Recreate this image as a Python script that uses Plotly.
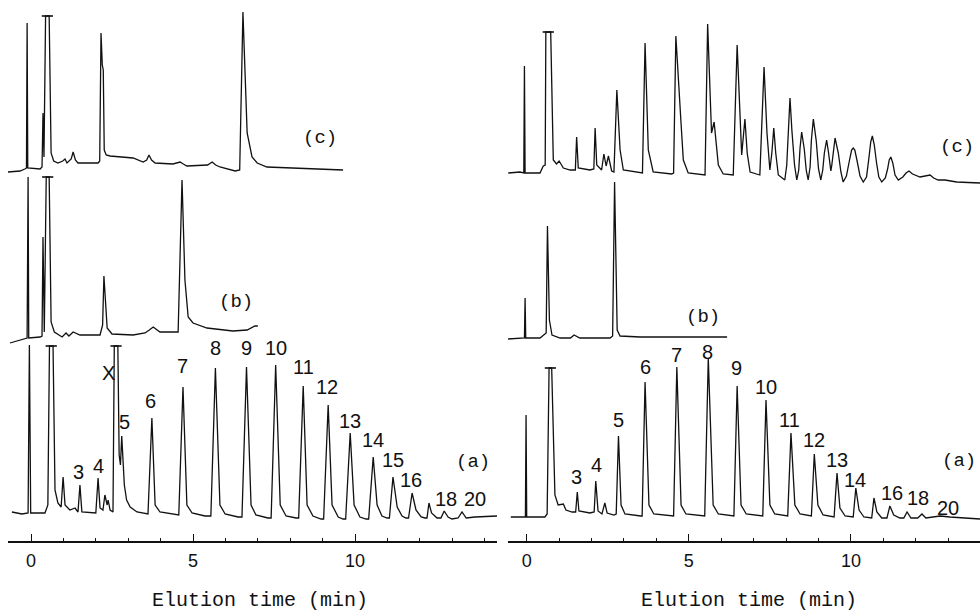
import plotly.graph_objects as go

# ---------------- data (time in min, detector response in arbitrary units) ----------------
# Left column chromatograms
left_c_points = [(-0.71, -7), (-0.34, -6), (-0.19, -4), (-0.14, -3), (-0.12, 142), (-0.10, -3),
                 (0.28, -4), (0.34, -2), (0.37, 52), (0.40, 8), (0.45, 149), (0.56, 149),
                 (0.62, 12), (0.70, 4), (0.83, 2), (0.98, 4), (1.05, 6), (1.11, 2), (1.24, 6),
                 (1.30, 13), (1.37, 5), (1.45, 2),
                 (2.07, 2), (2.12, 4), (2.16, 132), (2.20, 100), (2.23, 95), (2.26, 15), (2.32, 10),
                 (2.44, 9), (3.15, 7), (3.46, 3), (3.57, 5), (3.64, 10), (3.72, 5), (3.83, 2),
                 (4.38, 1), (4.52, 2), (4.60, 3), (4.70, 1), (4.81, -1), (5.45, 0), (5.59, 3),
                 (5.70, 0), (5.83, -2), (6.30, -6), (6.44, -5), (6.54, 153), (6.67, 32),
                 (6.82, 8), (6.98, 2), (7.28, -2), (8.30, -3), (9.63, -5)]
left_b_points = [(-0.65, -6), (-0.19, -2), (-0.12, -1), (-0.09, 160), (-0.07, -1), (0.28, 0),
                 (0.34, 1), (0.37, 100), (0.41, 5), (0.47, 160), (0.56, 160), (0.62, 15), (0.72, 5),
                 (0.96, 0), (1.08, 4), (1.17, 1), (1.30, 5), (1.51, 2), (2.13, 2), (2.21, 12),
                 (2.25, 61), (2.35, 9), (2.50, 3), (3.15, 2), (3.52, 4), (3.65, 7), (3.77, 10),
                 (3.98, 5), (4.44, 5), (4.54, 5), (4.66, 157), (4.75, 57), (4.85, 20), (5.00, 14),
                 (5.43, 9), (6.23, 6), (6.67, 7), (6.91, 11), (7.00, 11)]
left_a_points = [(-0.59, 3), (-0.28, 1), (-0.09, 2), (-0.05, 170), (-0.01, 2), (0.43, 2), (0.52, 10),
                 (0.57, 169), (0.68, 169), (0.74, 25), (0.83, 12), (0.93, 8), (0.99, 38), (1.05, 10),
                 (1.20, 5), (1.36, 7), (1.45, 3), (1.51, 30), (1.57, 3), (1.88, 2), (2.00, 2),
                 (2.07, 37), (2.13, 7), (2.22, 5), (2.28, 20), (2.35, 10), (2.38, 15), (2.44, 5),
                 (2.53, 3), (2.57, 169), (2.68, 169), (2.72, 60), (2.76, 50), (2.80, 79), (2.84, 45),
                 (2.88, 30), (2.95, 15), (3.06, 8), (3.27, 3), (3.61, 1), (3.73, 97), (3.83, 10),
                 (3.98, 3), (4.44, 1), (4.56, 0), (4.69, 128), (4.81, 10), (4.97, 2), (5.37, -1),
                 (5.55, -1), (5.69, 147), (5.83, 10), (5.99, 1), (6.39, -2), (6.51, -2), (6.65, 148),
                 (6.79, 10), (6.94, 0), (7.31, -3), (7.41, -3), (7.55, 150), (7.69, 10), (7.87, -1),
                 (8.18, -3), (8.26, -3), (8.40, 129), (8.52, 10), (8.70, -1), (8.95, -4), (9.03, -4),
                 (9.17, 110), (9.29, 10), (9.48, -2), (9.63, -4), (9.71, -4), (9.85, 82), (9.97, 10),
                 (10.15, -2), (10.34, -4), (10.42, -4), (10.56, 58), (10.68, 10), (10.83, -1),
                 (10.99, -3), (11.06, -3), (11.17, 38), (11.30, 8), (11.45, -1), (11.57, -3),
                 (11.65, -3), (11.76, 22), (11.88, 5), (12.04, -2), (12.16, -3), (12.22, -3),
                 (12.28, 12), (12.36, 2), (12.53, -3), (12.65, -3), (12.75, 4), (12.87, -2),
                 (12.99, -4), (13.18, -3), (13.30, 3), (13.43, -3), (13.70, -2), (14.17, -1), (14.38, -1)]

# Right column chromatograms
right_c_points = [(-0.57, 0), (-0.21, 1), (-0.09, 0), (-0.07, 107), (-0.05, 0), (0.41, 0), (0.51, 7),
                  (0.57, 8), (0.59, 141), (0.74, 141), (0.82, 13), (0.92, 9), (1.00, 12), (1.13, 5),
                  (1.34, 3), (1.50, 3), (1.54, 36), (1.59, 5), (1.95, 3), (2.07, 4), (2.11, 45),
                  (2.16, 8), (2.31, 3), (2.38, 19), (2.45, 7), (2.52, 17), (2.62, 2), (2.69, 1),
                  (2.78, 83), (2.88, 23), (2.98, 3), (3.49, 0), (3.57, 0), (3.65, 130), (3.75, 23),
                  (3.90, 1), (4.47, -1), (4.53, 0), (4.60, 137), (4.75, 55), (4.83, 13), (4.98, 0),
                  (5.40, -2), (5.50, -2), (5.58, 149), (5.70, 40), (5.78, 51), (5.91, 8), (6.06, -1),
                  (6.37, -2), (6.49, 128), (6.63, 18), (6.73, 54), (6.80, 20), (6.89, 1), (7.19, -2),
                  (7.32, 106), (7.41, 40), (7.50, 3), (7.56, 20), (7.62, 45), (7.68, 20), (7.76, -2),
                  (7.86, -5), (7.96, -7), (8.02, 8), (8.07, 42), (8.12, 75), (8.18, 42), (8.26, 8),
                  (8.33, -7), (8.39, 3), (8.43, 25), (8.48, 41), (8.56, 24), (8.62, 3), (8.68, -7),
                  (8.74, 6), (8.78, 33), (8.84, 54), (8.93, 32), (9.00, 4), (9.07, -7), (9.13, 3),
                  (9.18, 20), (9.25, 33), (9.31, 20), (9.35, 8), (9.38, 2), (9.41, 8), (9.46, 22),
                  (9.51, 35), (9.61, 20), (9.69, 1), (9.76, -9), (9.86, -3), (9.95, 12), (10.02, 23),
                  (10.07, 25), (10.12, 23), (10.19, 12), (10.28, -3), (10.38, -9), (10.48, -4),
                  (10.55, 14), (10.61, 31), (10.66, 37), (10.72, 28), (10.79, 10), (10.86, -4),
                  (10.95, -9), (11.06, -5), (11.13, 4), (11.18, 13), (11.23, 16), (11.29, 10),
                  (11.36, -2), (11.46, -7), (11.60, -4), (11.70, 0), (11.79, 2), (11.90, -1),
                  (12.13, -4), (12.30, -3), (12.44, -2), (12.55, -5), (12.69, -7), (12.90, -7),
                  (13.26, -9), (13.98, -10)]
right_b_points = [(-0.58, -1), (-0.21, 0), (-0.07, 0), (-0.05, 40), (-0.03, 0), (0.41, 0), (0.54, 3),
                  (0.60, 5), (0.64, 112), (0.70, 18), (0.78, 3), (1.03, 0), (1.35, 0), (1.46, 3),
                  (1.64, 0), (2.57, 0), (2.65, 2), (2.71, 156), (2.79, 8), (2.88, 2), (3.50, 1), (6.18, 1)]
right_a_points = [(-0.49, 0), (-0.21, 0), (-0.04, 0), (-0.02, 102), (0.00, 0), (0.56, 0), (0.63, 3),
                  (0.69, 149), (0.77, 149), (0.87, 22), (0.97, 12), (1.13, 13), (1.21, 7), (1.40, 5),
                  (1.51, 5), (1.56, 25), (1.61, 6), (1.95, 4), (2.08, 5), (2.13, 36), (2.20, 6),
                  (2.32, 3), (2.41, 14), (2.48, 4), (2.69, 2), (2.76, 3), (2.83, 81), (2.91, 12),
                  (3.03, 3), (3.52, 1), (3.56, 1), (3.65, 135), (3.77, 12), (3.92, 3), (4.48, 1),
                  (4.53, 1), (4.63, 150), (4.76, 12), (4.91, 3), (5.40, 1), (5.49, 1), (5.60, 159),
                  (5.75, 12), (5.91, 3), (6.33, 1), (6.39, 1), (6.49, 131), (6.61, 12), (6.77, 3),
                  (7.24, 1), (7.28, 1), (7.38, 117), (7.50, 12), (7.65, 3), (7.99, 1), (8.05, 1),
                  (8.15, 84), (8.27, 12), (8.43, 3), (8.74, 1), (8.78, 1), (8.87, 63), (8.98, 12),
                  (9.14, 2), (9.45, 0), (9.48, 0), (9.57, 44), (9.66, 9), (9.82, 1), (10.03, 0),
                  (10.07, 0), (10.15, 29), (10.25, 7), (10.40, 0), (10.62, -1), (10.64, -1),
                  (10.71, 19), (10.80, 5), (10.95, -1), (11.11, -1), (11.20, 11), (11.32, 2),
                  (11.51, -1), (11.63, -1), (11.73, 5), (11.85, -1), (12.06, -1), (12.19, 3),
                  (12.31, -1), (12.59, 0), (12.75, 1), (13.05, 0), (13.51, -1), (13.98, -2)]

# off-scale (clipped) peaks: (time, clip level)
left_c_caps = [(0.505, 149)]
left_b_caps = [(0.515, 160)]
left_a_caps = [(0.625, 169), (2.625, 169)]
right_c_caps = [(0.665, 141)]
right_a_caps = [(0.73, 149)]

# peak-number labels: (text, time)
left_labels = ["3", "4", "X", "5", "6", "7", "8", "9", "10", "11", "12", "13", "14", "15", "16", "18", "20"]
left_label_t = [1.48, 2.07, 2.38, 2.87, 3.70, 4.69, 5.68, 6.64, 7.55, 8.40, 9.14, 9.85, 10.56, 11.17, 11.73, 12.81, 13.70]
right_labels = ["3", "4", "5", "6", "7", "8", "9", "10", "11", "12", "13", "14", "16", "18", "20"]
right_label_t = [1.55, 2.14, 2.82, 3.65, 4.61, 5.57, 6.48, 7.38, 8.12, 8.87, 9.57, 10.14, 11.27, 12.07, 12.99]

x_ticks = [0, 5, 10]
x_title = "Elution time (min)"
trace_names = ["(a)", "(b)", "(c)"]

# ---------------- layout helpers ----------------
W, H = 980, 613
AX_Y = 541                       # pixel row of the time axis
YR = AX_Y                        # y range 0..541 maps 1:1 to pixels
MONO = "Liberation Mono"
SANS = "Liberation Sans"
INK = "#111111"

def yv(px):                      # pixel row -> y coordinate
    return AX_Y - px

fig = go.Figure()

def add_chrom(points, caps, base_px, xa, ya):
    t = [p[0] for p in points]
    y = [yv(base_px) + p[1] for p in points]
    fig.add_trace(go.Scatter(x=t, y=y, mode="lines", xaxis=xa, yaxis=ya,
                             line=dict(color=INK, width=1.3),
                             hoverinfo="skip", showlegend=False))
    if caps:
        fig.add_trace(go.Scatter(x=[c[0] for c in caps], y=[yv(base_px) + c[1] for c in caps],
                                 mode="markers", xaxis=xa, yaxis=ya, showlegend=False,
                                 hoverinfo="skip",
                                 marker=dict(symbol="line-ew", size=8,
                                             line=dict(color=INK, width=1.6))))

add_chrom(left_c_points, left_c_caps, 165, "x", "y")
add_chrom(left_b_points, left_b_caps, 337, "x", "y")
add_chrom(left_a_points, left_a_caps, 515, "x", "y")
add_chrom(right_c_points, right_c_caps, 173, "x2", "y2")
add_chrom(right_b_points, [], 338, "x2", "y2")
add_chrom(right_a_points, right_a_caps, 517, "x2", "y2")

def xaxis_cfg(dom, rng, anchor):
    return dict(domain=dom, range=rng, anchor=anchor, showline=True, linecolor=INK,
                linewidth=1.5, ticks="inside", ticklen=7, tickwidth=1.2, tickcolor=INK,
                tickvals=x_ticks, ticktext=[str(v) for v in x_ticks],
                tickfont=dict(family=SANS, size=18, color=INK), ticklabelstandoff=3,
                minor=dict(ticks="inside", ticklen=3, dtick=1, tick0=0, tickcolor=INK,
                           tickwidth=1),
                showgrid=False, zeroline=False, automargin=False, fixedrange=True)

def yaxis_cfg(anchor):
    return dict(domain=[(H - AX_Y) / H, 1], range=[0, YR], visible=False, anchor=anchor,
                fixedrange=True, showgrid=False, zeroline=False)

fig.update_layout(
    width=W, height=H, margin=dict(l=0, r=0, t=0, b=0),
    paper_bgcolor="white", plot_bgcolor="white",
    xaxis=xaxis_cfg([8 / W, 497 / W], [-0.71, 14.38], "y"),
    yaxis=yaxis_cfg("x"),
    xaxis2=xaxis_cfg([508 / W, 1.0], [-0.577, 13.98], "y2"),
    yaxis2=yaxis_cfg("x2"),
    showlegend=False,
)

ann = []
# axis titles
for cx in (260, 749):
    ann.append(dict(text=x_title, x=cx / W, y=(H - 600) / H, xref="paper", yref="paper",
                    showarrow=False, xanchor="center", yanchor="middle",
                    font=dict(family=MONO, size=20, color=INK)))
# trace letters
trace_label_px = {"left": [(473, 462), (236, 302), (320, 138)],
                  "right": [(959, 461), (703, 317), (957, 147)]}
for side in ("left", "right"):
    for name, (px, py) in zip(trace_names, trace_label_px[side]):
        ann.append(dict(text=name, x=px / W, y=(H - py) / H, xref="paper", yref="paper",
                        showarrow=False, xanchor="center", yanchor="middle",
                        font=dict(family=MONO, size=19, color=INK)))
# peak numbers
left_label_py = [472, 466, 373, 422, 401, 366, 348, 348, 348, 367, 387, 421, 440, 460, 480, 499, 499]
right_label_py = [477, 465, 420, 367, 355, 352, 368, 387, 420, 440, 460, 480, 493, 498, 508]
for txt, t, py in zip(left_labels, left_label_t, left_label_py):
    ann.append(dict(text=txt, x=t, y=yv(py), xref="x", yref="y", showarrow=False,
                    xanchor="center", yanchor="middle",
                    font=dict(family=SANS, size=20, color=INK)))
for txt, t, py in zip(right_labels, right_label_t, right_label_py):
    ann.append(dict(text=txt, x=t, y=yv(py), xref="x2", yref="y2", showarrow=False,
                    xanchor="center", yanchor="middle",
                    font=dict(family=SANS, size=20, color=INK)))
fig.update_layout(annotations=ann)

fig.write_html("out.html")
